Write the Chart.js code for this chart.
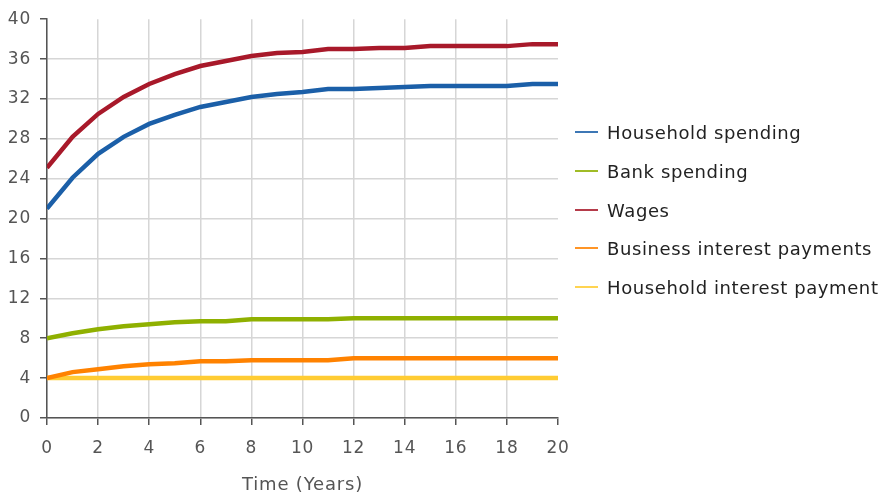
<!DOCTYPE html>
<html>
<head>
<meta charset="utf-8">
<script src="https://cdn.jsdelivr.net/npm/chart.js@4/dist/chart.umd.min.js"></script>
<style>
  html, body { margin: 0; padding: 0; background: #fff; }
  #wrap { position: relative; width: 883px; height: 497px; }
  #legend { position: absolute; left: 575px; top: 0; font-family: "DejaVu Sans", sans-serif; font-size: 18px; letter-spacing: 0.6px; color: #222; }
  .item { position: absolute; left: 0; white-space: nowrap; display: flex; align-items: center; height: 22px; }
  .swatch { width: 23px; height: 2px; margin-right: 9px; opacity: 0.85; }
</style>
</head>
<body>
<div id="wrap">
  <canvas id="chart"></canvas>
  <div id="legend"></div>
</div>
<script>
// Time axis (years)
const years = [0, 1, 2, 3, 4, 5, 6, 7, 8, 9, 10, 11, 12, 13, 14, 15, 16, 17, 18, 19, 20];

// Series
const householdSpending = [21.0, 24.1, 26.5, 28.2, 29.5, 30.4, 31.2, 31.7, 32.2, 32.5, 32.7, 33.0, 33.0, 33.1, 33.2, 33.3, 33.3, 33.3, 33.3, 33.5, 33.5];
const bankSpending = [8.0, 8.5, 8.9, 9.2, 9.4, 9.6, 9.7, 9.7, 9.9, 9.9, 9.9, 9.9, 10.0, 10.0, 10.0, 10.0, 10.0, 10.0, 10.0, 10.0, 10.0];
const wages = [25.1, 28.2, 30.5, 32.2, 33.5, 34.5, 35.3, 35.8, 36.3, 36.6, 36.7, 37.0, 37.0, 37.1, 37.1, 37.3, 37.3, 37.3, 37.3, 37.5, 37.5];
const businessInterest = [4.0, 4.6, 4.9, 5.2, 5.4, 5.5, 5.7, 5.7, 5.8, 5.8, 5.8, 5.8, 6.0, 6.0, 6.0, 6.0, 6.0, 6.0, 6.0, 6.0, 6.0];
const householdInterest = [4.0, 4.0, 4.0, 4.0, 4.0, 4.0, 4.0, 4.0, 4.0, 4.0, 4.0, 4.0, 4.0, 4.0, 4.0, 4.0, 4.0, 4.0, 4.0, 4.0, 4.0];

const seriesNames = ["Household spending", "Bank spending", "Wages", "Business interest payments", "Household interest payment"];
const seriesData = [householdSpending, bankSpending, wages, businessInterest, householdInterest];
const seriesColors = ["#1b5fa8", "#8fb000", "#a8192a", "#ff8200", "#ffcc33"];

const axisColor = "#555";
const gridColor = "#d6d6d6";
const tickFont = { family: "DejaVu Sans", size: 17 };
const titleFont = { family: "DejaVu Sans", size: 18 };

const datasets = seriesNames.map((name, i) => ({
  label: name,
  data: years.map((x, j) => ({ x: x, y: seriesData[i][j] })),
  borderColor: seriesColors[i],
  backgroundColor: seriesColors[i],
  borderWidth: 4.5,
  pointRadius: 0,
  tension: 0,
  fill: false,
}));

// the reference text is a little letter-spaced
const spacing = {
  id: "spacing",
  beforeInit(chart) { chart.ctx.letterSpacing = "0.8px"; },
  beforeDraw(chart) { chart.ctx.letterSpacing = "0.8px"; },
};

const ctx = document.getElementById("chart").getContext("2d");
new Chart(ctx, {
  type: "line",
  data: { datasets },
  plugins: [spacing],
  options: {
    responsive: true,
    maintainAspectRatio: false,
    animation: false,
    layout: { padding: { top: 19, right: 325, left: 0, bottom: 0 } },
    plugins: {
      legend: { display: false },
      tooltip: { enabled: false },
    },
    scales: {
      x: {
        type: "linear",
        min: 0,
        max: 20,
        ticks: { stepSize: 2, color: axisColor, font: tickFont, padding: 13, maxRotation: 0 },
        grid: {
          color: (c) => (c.tick && c.tick.value === 20 ? "rgba(0,0,0,0)" : gridColor),
          tickColor: axisColor,
          tickLength: 7,
          lineWidth: 1.5,
        },
        border: { color: axisColor, width: 1.5 },
        title: { display: true, text: "Time (Years)", color: axisColor, font: titleFont, padding: { top: 0, bottom: 1 } },
        afterFit: (scale) => { scale.height = 79; },
      },
      y: {
        min: 0,
        max: 40,
        ticks: { stepSize: 4, color: axisColor, font: tickFont, padding: 9 },
        grid: {
          color: (c) => (c.tick && c.tick.value === 40 ? "rgba(0,0,0,0)" : gridColor),
          tickColor: axisColor,
          tickLength: 7,
          lineWidth: 1.5,
        },
        border: { color: axisColor, width: 1.5 },
        afterFit: (scale) => { scale.width = 47; },
      },
    },
  },
});

// Legend on the right
const legendTops = [132, 171, 210, 248, 287];
const legend = document.getElementById("legend");
seriesNames.forEach((name, i) => {
  const item = document.createElement("div");
  item.className = "item";
  item.style.top = (legendTops[i] - 11) + "px";
  const sw = document.createElement("span");
  sw.className = "swatch";
  sw.style.background = seriesColors[i];
  const label = document.createElement("span");
  label.textContent = name;
  item.appendChild(sw);
  item.appendChild(label);
  legend.appendChild(item);
});
</script>
</body>
</html>
